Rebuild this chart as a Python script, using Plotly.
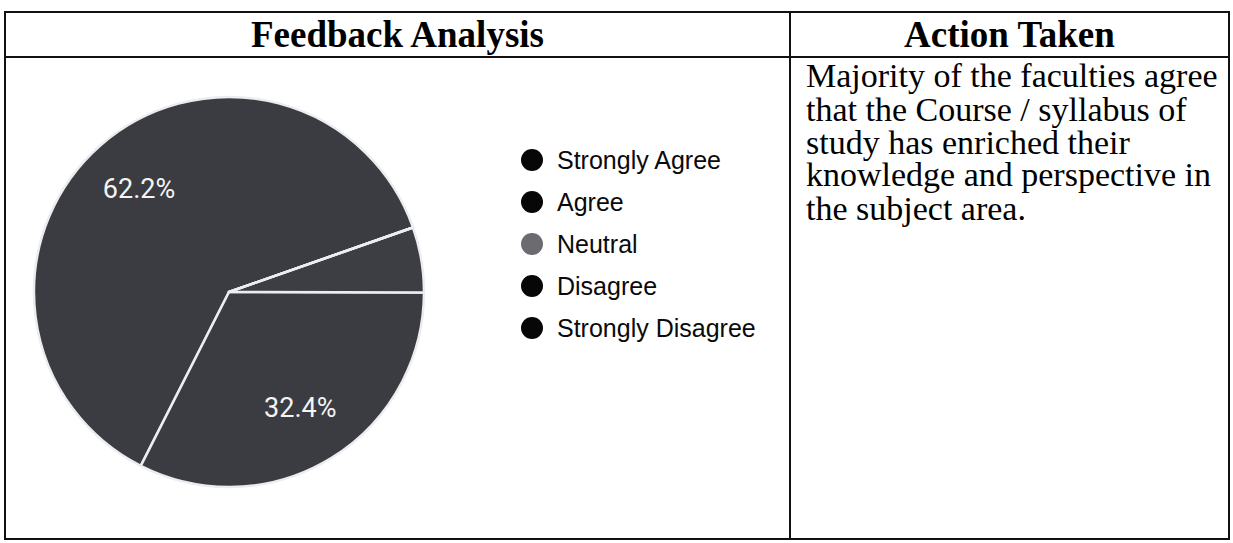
import plotly.graph_objects as go

# ---------------- data ----------------
categories = ["Strongly Agree", "Agree", "Neutral", "Disagree", "Strongly Disagree"]
counts = [23, 12, 2, 0, 0]
slice_colors = ["#3b3c41", "#3b3c41", "#3d3e43", "#3b3c41", "#3b3c41"]
legend_colors = ["#070707", "#070707", "#6c6c70", "#070707", "#070707"]

header_left = "Feedback Analysis"
header_right = "Action Taken"
action_lines = [
    "Majority of the faculties agree",
    "that the Course / syllabus of",
    "study has enriched their",
    "knowledge and perspective in",
    "the subject area.",
]

W, H = 1233, 543


def px(x):
    return x / W


def py(y):
    return 1 - y / H


total = sum(counts)
texttemplates = ["%{percent:.1%}" if c / total >= 0.1 else "" for c in counts]

# pie geometry (pixels)
cx, cy, r = 229, 292, 195
pie_domain = dict(x=[px(cx - r), px(cx + r)], y=[py(cy + r), py(cy - r)])
ROT = -153.1

fig = go.Figure()
# filled slices with white separators
fig.add_trace(
    go.Pie(
        labels=categories,
        values=counts,
        sort=False,
        direction="counterclockwise",
        rotation=ROT,
        marker=dict(colors=slice_colors, line=dict(color="#ecedf0", width=2.5)),
        textinfo="none",
        domain=pie_domain,
        showlegend=False,
        hoverinfo="label+percent",
    )
)
# transparent ring on top that carries the percentage labels further out
fig.add_trace(
    go.Pie(
        labels=categories,
        values=counts,
        sort=False,
        direction="counterclockwise",
        rotation=ROT,
        hole=0.4,
        marker=dict(colors=["rgba(0,0,0,0)"] * len(categories), line=dict(width=0)),
        texttemplate=texttemplates,
        textposition="inside",
        insidetextorientation="horizontal",
        textfont=dict(family="Roboto", size=27, color="#f4f4f4"),
        domain=pie_domain,
        showlegend=False,
        hoverinfo="skip",
    )
)

shapes = []
line_style = dict(color="#111111", width=2)
# table frame
x0, x1, xm = 5, 1229, 790
y0, yh, y1 = 12, 57, 539
shapes.append(dict(type="rect", xref="paper", yref="paper", x0=px(x0), x1=px(x1), y0=py(y1), y1=py(y0), line=line_style))
shapes.append(dict(type="line", xref="paper", yref="paper", x0=px(x0), x1=px(x1), y0=py(yh), y1=py(yh), line=line_style))
shapes.append(dict(type="line", xref="paper", yref="paper", x0=px(xm), x1=px(xm), y0=py(y0), y1=py(y1), line=line_style))

annotations = []
annotations.append(dict(text="<b>%s</b>" % header_left, x=px((x0 + xm) / 2), y=py(35), xref="paper", yref="paper",
                        showarrow=False, xanchor="center", yanchor="middle",
                        font=dict(family="Liberation Serif", size=37, color="#000000")))
annotations.append(dict(text="<b>%s</b>" % header_right, x=px((xm + x1) / 2), y=py(35), xref="paper", yref="paper",
                        showarrow=False, xanchor="center", yanchor="middle",
                        font=dict(family="Liberation Serif", size=37, color="#000000")))

# action text, one annotation per line (tight single spacing)
for i, line in enumerate(action_lines):
    annotations.append(dict(text=line, x=px(804), y=py(76 + 33 * i), xref="paper", yref="paper",
                            showarrow=False, xanchor="left", yanchor="middle",
                            font=dict(family="Liberation Serif", size=34, color="#000000")))

# custom legend with round dots
leg_x, leg_y0, leg_dy, dot_r = 532, 160, 42, 11
for i, (cat, col) in enumerate(zip(categories, legend_colors)):
    yy = leg_y0 + leg_dy * i
    shapes.append(dict(type="circle", xref="paper", yref="paper",
                       x0=px(leg_x - dot_r), x1=px(leg_x + dot_r), y0=py(yy + dot_r), y1=py(yy - dot_r),
                       fillcolor=col, line=dict(color=col, width=0)))
    annotations.append(dict(text=cat, x=px(555), y=py(yy), xref="paper", yref="paper",
                            showarrow=False, xanchor="left", yanchor="middle",
                            font=dict(family="Liberation Sans", size=25, color="#0a0a0a")))

fig.update_layout(
    width=W,
    height=H,
    margin=dict(l=0, r=0, t=0, b=0),
    paper_bgcolor="#ffffff",
    plot_bgcolor="#ffffff",
    shapes=shapes,
    annotations=annotations,
)

fig.write_html(
    "out.html",
    config={"displayModeBar": False},
    post_script="document.body.style.margin='0';document.body.style.overflow='hidden';",
)
